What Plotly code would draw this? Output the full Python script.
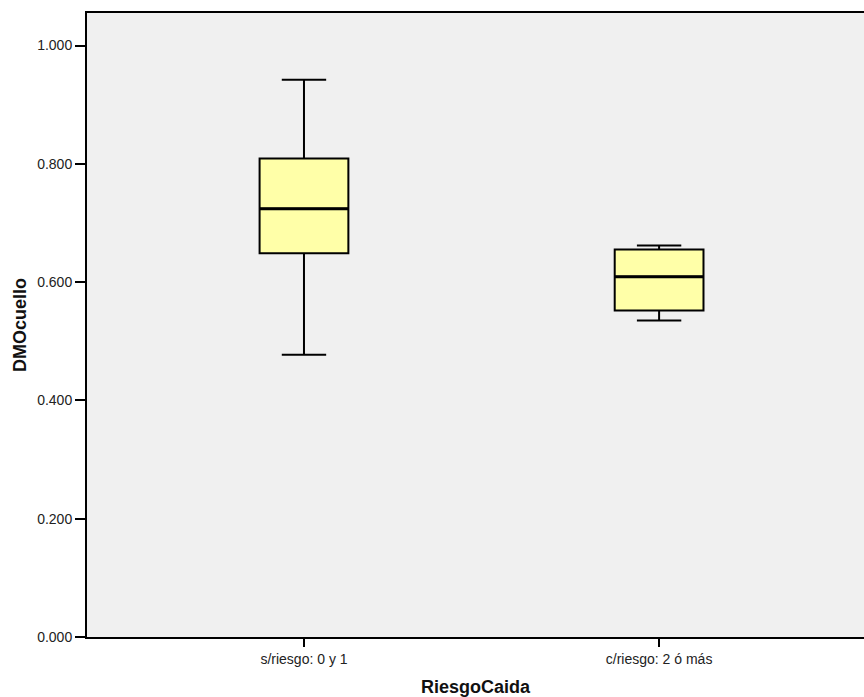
import plotly.graph_objects as go

# Summary statistics of DMOcuello by RiesgoCaida group
categories = ["s/riesgo: 0 y 1", "c/riesgo: 2 ó más"]
lower_whisker = [0.477, 0.535]
q1 = [0.649, 0.552]
median = [0.724, 0.609]
q3 = [0.809, 0.655]
upper_whisker = [0.942, 0.662]
y_ticks = [0.0, 0.2, 0.4, 0.6, 0.8, 1.0]

positions = list(range(len(categories)))
box_width = 0.25

fig = go.Figure()
fig.add_trace(go.Box(
    x=positions,
    q1=q1, median=median, q3=q3,
    lowerfence=lower_whisker, upperfence=upper_whisker,
    width=box_width,
    whiskerwidth=0.5,
    fillcolor="#ffffa8",
    line=dict(color="#000000", width=2),
    boxpoints=False,
    hoverinfo="skip",
    showlegend=False,
))

# Heavier median bars on top of the boxes
for p, m in zip(positions, median):
    fig.add_shape(type="line", xref="x", yref="y",
                  x0=p - box_width / 2, x1=p + box_width / 2, y0=m, y1=m,
                  line=dict(color="#000000", width=3))

font_family = "Liberation Sans, Arial, sans-serif"
fig.update_layout(
    width=864, height=697,
    margin=dict(l=87, r=0, t=13, b=60),
    paper_bgcolor="#ffffff",
    plot_bgcolor="#f0f0f0",
    font=dict(family=font_family, size=14, color="#222222"),
    xaxis=dict(
        range=[-0.611, 1.577],
        tickvals=positions, ticktext=categories,
        showgrid=False, zeroline=False,
        showline=True, mirror=True, linecolor="#000000", linewidth=2,
        ticks="outside", ticklen=8, tickwidth=2, tickcolor="#000000",
        tickfont=dict(size=14, color="#222222"),
        title=dict(text="<b>RiesgoCaida</b>", font=dict(size=18, color="#111111"), standoff=15),
    ),
    yaxis=dict(
        range=[0, 1.055],
        tickvals=y_ticks, tickformat=".3f",
        showgrid=False, zeroline=False,
        showline=True, linecolor="#000000", linewidth=2,
        ticks="outside", ticklen=10, tickwidth=2, tickcolor="#000000",
        tickfont=dict(size=14, color="#222222"),
        title=dict(text="<b>DMOcuello</b>", font=dict(size=18, color="#111111"), standoff=6),
    ),
)

fig.write_html("out.html")
